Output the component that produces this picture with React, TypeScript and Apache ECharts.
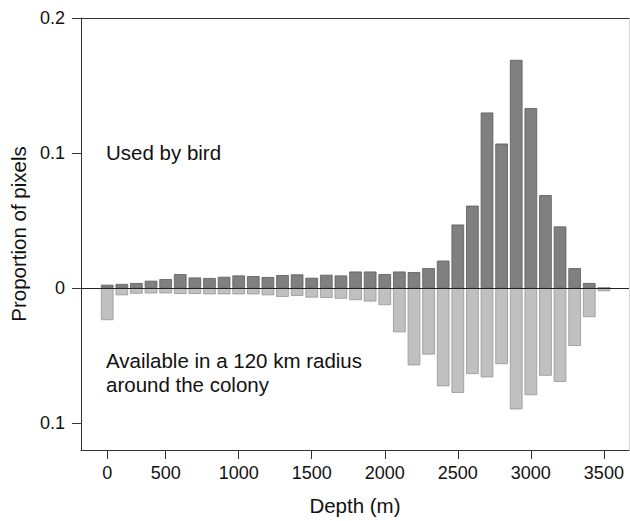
import React, { useEffect, useRef } from "react";
import * as echarts from "echarts";

// Proportion of pixels per depth bin (bar index 0..34)
const usedByBird = [
  0.0024, 0.003, 0.0037, 0.0054, 0.0066, 0.0103, 0.0078, 0.0074, 0.0083, 0.0093,
  0.0088, 0.0081, 0.0096, 0.0101, 0.0076, 0.0098, 0.0093, 0.0122, 0.0122, 0.0103,
  0.0122, 0.0118, 0.0147, 0.0203, 0.047, 0.061, 0.13, 0.107, 0.169, 0.1333,
  0.0688, 0.0456, 0.0147, 0.0037, 0,
];
const available = [
  0.0238, 0.0054, 0.0042, 0.004, 0.004, 0.0044, 0.0044, 0.0047, 0.0047, 0.0047,
  0.0047, 0.0054, 0.0066, 0.0059, 0.0071, 0.0074, 0.0079, 0.009, 0.01, 0.0127,
  0.0328, 0.0573, 0.0493, 0.0728, 0.0777, 0.0637, 0.0662, 0.0564, 0.0899, 0.0794,
  0.065, 0.0696, 0.0429, 0.0216, 0.0024,
];
const xTickIndex = [0, 4, 9, 14, 19, 24, 29, 34];
const xTickLabels = ["0", "500", "1000", "1500", "2000", "2500", "3000", "3500"];
const yTickValues = [-0.1, 0, 0.1, 0.2];

const FONT = "'Liberation Sans', Arial, Helvetica, sans-serif";

export default function App() {
  const ref = useRef<HTMLDivElement>(null);
  useEffect(() => {
    if (!ref.current) return;
    const chart = echarts.init(ref.current, undefined, { renderer: "svg" });
    const xMin = -1.8;
    const xMax = 35.72;
    chart.setOption({
      animation: false,
      backgroundColor: "#ffffff",
      textStyle: { fontFamily: FONT },
      grid: { left: 79, top: 18, width: 550, height: 435, show: false },
      xAxis: [
        {
          type: "value",
          min: xMin,
          max: xMax,
          position: "bottom",
          name: "Depth (m)",
          nameLocation: "middle",
          nameGap: 45,
          nameTextStyle: { fontSize: 20.5, color: "#111", fontFamily: FONT },
          axisLine: { show: true, onZero: false, lineStyle: { color: "#333", width: 1 } },
          axisTick: {
            show: true,
            length: 9,
            customValues: xTickIndex,
            lineStyle: { color: "#333" },
          },
          axisLabel: {
            customValues: xTickIndex,
            fontSize: 18,
            color: "#111",
            margin: 14,
            fontFamily: FONT,
            formatter: (v: number) => {
              const k = xTickIndex.indexOf(Math.round(v));
              return k >= 0 ? xTickLabels[k] : "";
            },
          },
          splitLine: { show: false },
        },
        {
          type: "value",
          min: xMin,
          max: xMax,
          position: "top",
          axisLine: { show: true, onZero: false, lineStyle: { color: "#333", width: 1 } },
          axisTick: { show: false },
          axisLabel: { show: false },
          splitLine: { show: false },
        },
      ],
      yAxis: [
        {
          type: "value",
          min: -0.12,
          max: 0.2,
          position: "left",
          name: "Proportion of pixels",
          nameLocation: "middle",
          nameGap: 51,
          nameTextStyle: { fontSize: 20.5, color: "#111", fontFamily: FONT },
          axisLine: { show: true, onZero: false, lineStyle: { color: "#333", width: 1 } },
          axisTick: {
            show: true,
            length: 9,
            customValues: yTickValues,
            lineStyle: { color: "#333" },
          },
          axisLabel: {
            customValues: yTickValues,
            fontSize: 18,
            color: "#111",
            margin: 16,
            fontFamily: FONT,
            formatter: (v: number) => (Math.abs(v) < 1e-9 ? "0" : Math.abs(v).toFixed(1)),
          },
          splitLine: { show: false },
        },
        {
          type: "value",
          min: -0.12,
          max: 0.2,
          position: "right",
          axisLine: { show: true, onZero: false, lineStyle: { color: "#d4d4d4", width: 1 } },
          axisTick: { show: false },
          axisLabel: { show: false },
          splitLine: { show: false },
        },
      ],
      series: [
        {
          name: "Used by bird",
          type: "bar",
          stack: "depth",
          barWidth: 12.6,
          data: usedByBird.map((v, i) => [i, v]),
          itemStyle: { color: "#808080", borderColor: "#5a5a5a", borderWidth: 0.8 },
          markLine: {
            silent: true,
            symbol: ["none", "none"],
            label: { show: false },
            lineStyle: { color: "#222", width: 1, type: "solid" },
            data: [{ yAxis: 0 }],
            z: 10,
          },
        },
        {
          name: "Available in a 120 km radius around the colony",
          type: "bar",
          stack: "depth",
          barWidth: 12.6,
          data: available.map((v, i) => [i, -v]),
          itemStyle: { color: "#c0c0c0", borderColor: "#969696", borderWidth: 0.8 },
        },
      ],
      graphic: [
        {
          type: "text",
          left: 106,
          top: 142,
          style: { text: "Used by bird", font: `20.5px ${FONT}`, fill: "#111" },
        },
        {
          type: "text",
          left: 106,
          top: 348,
          style: {
            text: "Available in a 120 km radius\naround the colony",
            font: `20.5px ${FONT}`,
            fill: "#111",
            lineHeight: 24,
          },
        },
      ],
    });
    return () => chart.dispose();
  }, []);
  return <div ref={ref} style={{ width: 630, height: 521, position: "absolute", left: 0, top: 0 }} />;
}
